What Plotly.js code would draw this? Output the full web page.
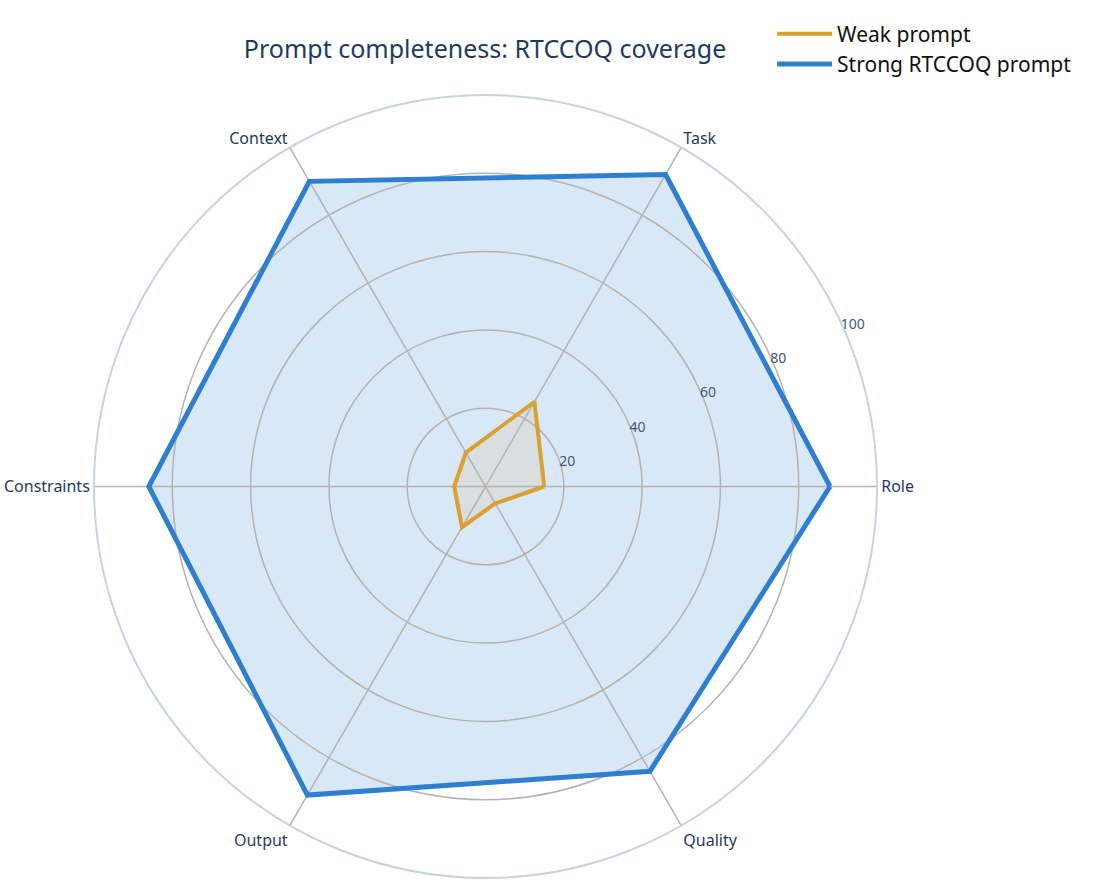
<!DOCTYPE html>
<html>
<head>
<meta charset="utf-8">
<script src="https://cdn.plot.ly/plotly-3.0.1.min.js"></script>
<style>
  html, body { margin: 0; padding: 0; background: #fff; }
  #chart { width: 1095px; height: 890px; }
</style>
</head>
<body>
<div id="chart"></div>
<script>
const dimensions = ["Role", "Task", "Context", "Constraints", "Output", "Quality"];
const weakScores = [15, 25, 10, 8, 12, 5];
const strongScores = [88, 92, 90, 86, 91, 84];
const radialTicks = [20, 40, 60, 80, 100];

const weakColor = "#daa030";
const strongColor = "#2e7fd0";

// close the loop so the polygon joins back to Role
const closeLoop = arr => arr.concat(arr[0]);

// fills live on the bottom subplot, outlines on the top one, so the
// grid ends up sitting between the shaded areas and the outlines
function fillTrace(scores, fillcolor) {
    return {
        type: "scatterpolar",
        subplot: "polar",
        r: closeLoop(scores),
        theta: closeLoop(dimensions),
        mode: "lines",
        fill: "toself",
        fillcolor: fillcolor,
        line: { width: 0 },
        showlegend: false,
        hoverinfo: "skip"
    };
}

function outlineTrace(name, scores, color, width) {
    return {
        type: "scatterpolar",
        subplot: "polar2",
        name: name,
        r: closeLoop(scores),
        theta: closeLoop(dimensions),
        mode: "lines",
        line: { color: color, width: width }
    };
}

let data = [
    fillTrace(strongScores, "rgba(46, 127, 208, 0.18)"),
    fillTrace(weakScores, "rgba(218, 160, 48, 0.12)"),
    outlineTrace("Weak prompt", weakScores, weakColor, 4),
    outlineTrace("Strong RTCCOQ prompt", strongScores, strongColor, 5)
];

let hiddenRadial = { range: [0, 100], visible: false };
let hiddenAngular = { direction: "counterclockwise", rotation: 0, visible: false };

let layout = {
    width: 1095,
    height: 890,
    margin: { l: 94, r: 218, t: 95, b: 12 },
    paper_bgcolor: "#ffffff",
    font: { family: "Noto Sans, Open Sans, sans-serif", color: "#1f3a5f" },
    title: {
        text: "Prompt completeness: RTCCOQ coverage",
        x: 0.443,
        xanchor: "center",
        y: 0.955,
        font: { size: 25, color: "#1f3a5f" }
    },
    showlegend: true,
    legend: {
        x: 0.866,
        y: 1.104,
        xanchor: "left",
        yanchor: "top",
        itemwidth: 55,
        font: { size: 21, color: "#111111" },
        bgcolor: "rgba(0,0,0,0)"
    },
    polar: {
        bgcolor: "#ffffff",
        domain: { x: [0, 1], y: [0, 1] },
        radialaxis: hiddenRadial,
        angularaxis: hiddenAngular
    },
    polar2: {
        bgcolor: "rgba(0,0,0,0)",
        domain: { x: [0, 1], y: [0, 1] },
        radialaxis: {
            range: [0, 100],
            tickvals: radialTicks,
            angle: 26,
            tickangle: 26,
            showline: false,
            ticks: "",
            gridcolor: "#b3b3b3",
            gridwidth: 1.5,
            tickfont: { size: 14, color: "#4a5570" }
        },
        angularaxis: {
            direction: "counterclockwise",
            rotation: 0,
            linecolor: "#c9d3de",
            linewidth: 2,
            gridcolor: "#b3b3b3",
            gridwidth: 1.5,
            ticks: "",
            tickfont: { size: 16, color: "#1f3a5f" }
        }
    }
};

Plotly.newPlot("chart", data, layout, { displayModeBar: false, staticPlot: true });
</script>
</body>
</html>
